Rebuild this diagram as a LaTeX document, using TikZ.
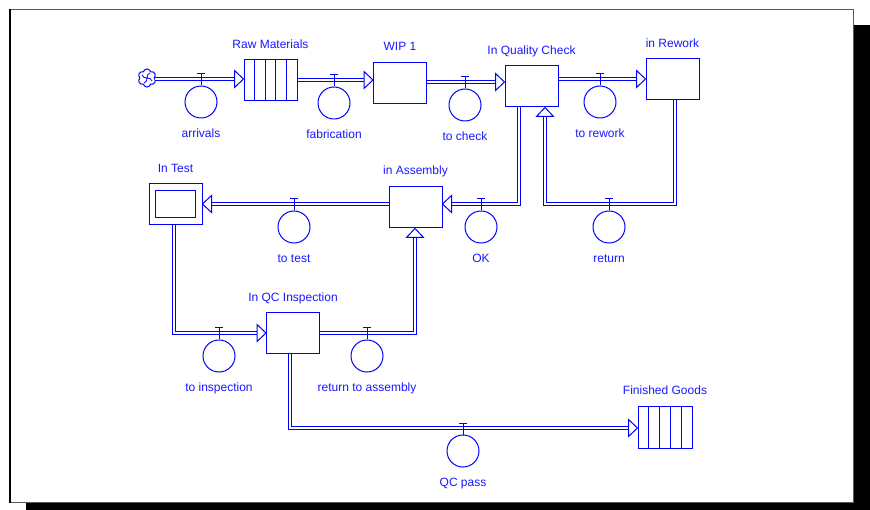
\documentclass[tikz,border=0pt]{standalone}
\usepackage{fontspec}
\setmainfont{Liberation Sans}
\usetikzlibrary{calc,shapes.symbols}
\definecolor{sdblue}{RGB}{0,0,255}
\definecolor{labblue}{RGB}{25,25,255}
\begin{document}
\begin{tikzpicture}[x=1pt,y=-1pt,
  stock/.style={draw=sdblue, line width=1pt, fill=white, minimum width=53pt, minimum height=41pt, inner sep=0pt},
  valve/.style={circle, draw=sdblue, line width=1pt, fill=white, minimum size=32pt, inner sep=0pt},
  lab/.style={text=labblue, font=\fontsize{12}{14}\selectfont, inner sep=0pt, anchor=base},
  pipe/.style={draw=sdblue, double=white, double distance=2.4pt, line width=1pt, line join=miter, shorten >=9pt},
  vline/.style={draw=sdblue, line width=1pt},
  ahead/.pic={\draw[sdblue, fill=white, line width=1pt, line join=miter] (0,0) -- (-9,8.5) -- (-9,-8.5) -- cycle;}
]
\useasboundingbox (0,0) rectangle (870,510);
% frame and shadow
\fill[black] (26,25) rectangle (870,510);
\draw[fill=white, draw=black!65, line width=1pt] (9.5,9.5) rectangle (853.5,502);
\draw[black, line width=2pt] (10,9) -- (10,502.5);

% stocks
\node[stock] (raw) at (270.5,80.5) {};
\node[stock] (wip) at (400,83.5) {};
\node[stock] (qc) at (531.5,86.5) {};
\node[stock] (rew) at (672.5,79.5) {};
\node[stock] (test) at (175.5,204) {};
\node[stock] (asm) at (415.5,207.5) {};
\node[stock] (qci) at (293,333.5) {};
\node[stock, minimum width=54pt, minimum height=42pt] (fg) at (665,427) {};
\foreach \n in {raw,fg} \foreach \i in {1,2,3,4}
  \draw[vline] ($(\n.north west)!\i/5!(\n.north east)$) -- ($(\n.south west)!\i/5!(\n.south east)$);
\draw[vline] ([shift={(7,8)}]test.north west) rectangle ([shift={(-7,-7)}]test.south east);

% stock labels
\node[lab] (rawL) at ([yshift=11pt]raw.north) {Raw Materials};
\node[lab] (wipL) at ([yshift=11.5pt]wip.north) {WIP 1};
\node[lab] (qcL) at ([yshift=10.7pt]qc.north) {In Quality Check};
\node[lab] (rewL) at ([yshift=11pt]rew.north) {in Rework};
\node[lab] (testL) at ([yshift=10pt]test.north) {In Test};
\node[lab] (asmL) at ([yshift=12pt]asm.north) {in Assembly};
\node[lab] (qciL) at ([yshift=11.3pt]qci.north) {In QC Inspection};
\node[lab] (fgL) at ([yshift=11pt]fg.north) {Finished Goods};

% source cloud
\node[cloud, draw=sdblue, line width=1pt, cloud puffs=6, aspect=1, minimum width=18pt, minimum height=18pt, inner sep=0pt] (src) at (147,78) {};
\draw[sdblue, line width=0.8pt] (src.center) to[bend left=40] ++(-5,-3)
  (src.center) to[bend left=40] ++(5,3)
  (src.center) to[bend left=40] ++(3,-5)
  (src.center) to[bend left=40] ++(-3,5);

% flow coordinates (valve positions and pipe corners)
\coordinate (fA) at (201,79);
\coordinate (fB) at (334,80);
\coordinate (fC) at (465,82);
\coordinate (fD) at (600,79);
\coordinate (fE) at (609,204);
\coordinate (rA) at (675,204);
\coordinate (rB) at (545,204);
\coordinate (fF) at (481,204);
\coordinate (oA) at (519,204);
\coordinate (fG) at (294,204);
\coordinate (fH) at (219,333);
\coordinate (iA) at (174,333);
\coordinate (fI) at (367,333);
\coordinate (aA) at (415,333);
\coordinate (fJ) at (463,428);
\coordinate (pA) at (290,428);

% pipes
\draw[pipe] (src.east |- fA) -- (raw.west |- fA);
\draw[pipe] (raw.east |- fB) -- (wip.west |- fB);
\draw[pipe] (wip.east |- fC) -- (qc.west |- fC);
\draw[pipe] (qc.east |- fD) -- (rew.west |- fD);
\draw[pipe] (rew.south -| rA) -- (rA) -- (rB) -- (qc.south -| rB);
\draw[pipe] (qc.south -| oA) -- (oA) -- (asm.east |- oA);
\draw[pipe] (asm.west |- fG) -- (test.east |- fG);
\draw[pipe] (test.south -| iA) -- (iA) -- (qci.west |- iA);
\draw[pipe] (qci.east |- aA) -- (aA) -- (asm.south -| aA);
\draw[pipe] (qci.south -| pA) -- (pA) -- (fg.west |- pA);

% arrowheads
\pic at (raw.west |- fA) {ahead};
\pic at (wip.west |- fB) {ahead};
\pic at (qc.west |- fC) {ahead};
\pic at (rew.west |- fD) {ahead};
\pic[rotate=90] at (qc.south -| rB) {ahead};
\pic[rotate=180] at (asm.east |- oA) {ahead};
\pic[rotate=180] at (test.east |- fG) {ahead};
\pic at (qci.west |- iA) {ahead};
\pic[rotate=90] at (asm.south -| aA) {ahead};
\pic at (fg.west |- pA) {ahead};

% valves
\foreach \f/\t in {fA/arrivals, fB/fabrication, fC/to check, fD/to rework, fE/return, fF/OK, fG/to test, fH/to inspection, fI/return to assembly, fJ/QC pass}{
  \node[valve] (\f V) at ([yshift=-23pt]\f) {};
  \draw[vline] (\f V.north) -- ([yshift=5pt]\f);
  \draw[vline] ([shift={(-4,-5)}]\f) -- ([shift={(4,-5)}]\f);
  \node[lab] (\f L) at ([yshift=-19pt]\f V.south) {\t};
}
\end{tikzpicture}
\end{document}
